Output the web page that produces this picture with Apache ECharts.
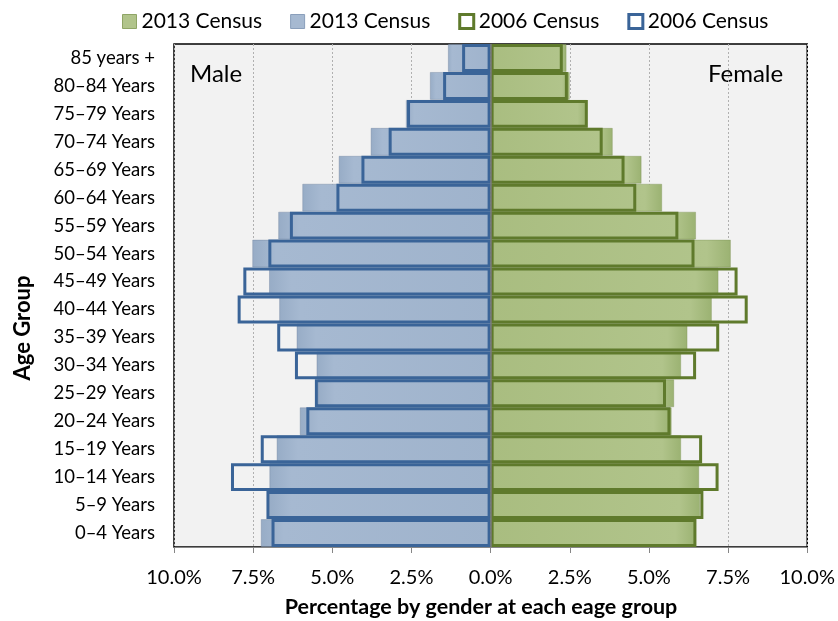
<!DOCTYPE html>
<html>
<head>
<meta charset="utf-8">
<script src="https://cdn.jsdelivr.net/npm/echarts@6/dist/echarts.min.js"></script>
<style>
html,body{margin:0;padding:0;background:#fff;}
#chart{width:838px;height:621px;}
</style>
</head>
<body>
<div id="chart"></div>
<script>
const ageGroups = ['0–4 Years','5–9 Years','10–14 Years','15–19 Years','20–24 Years','25–29 Years','30–34 Years','35–39 Years','40–44 Years','45–49 Years','50–54 Years','55–59 Years','60–64 Years','65–69 Years','70–74 Years','75–79 Years','80–84 Years','85 years +'];
// percentages, bottom (0–4) to top (85+)
const male2013   = [7.26, 7.00, 6.99, 6.76, 6.03, 5.47, 5.50, 6.13, 6.68, 7.00, 7.53, 6.71, 5.95, 4.80, 3.79, 2.68, 1.92, 1.35];
const male2006   = [6.92, 7.08, 8.20, 7.26, 5.82, 5.55, 6.18, 6.74, 7.99, 7.81, 7.02, 6.34, 4.87, 4.08, 3.22, 2.64, 1.50, 0.90];
const female2013 = [6.49, 6.62, 6.59, 6.02, 5.72, 5.80, 6.02, 6.22, 6.99, 7.20, 7.59, 6.49, 5.42, 4.77, 3.86, 3.05, 2.50, 2.40];
const female2006 = [6.50, 6.72, 7.20, 6.68, 5.68, 5.54, 6.49, 7.22, 8.12, 7.80, 6.44, 5.93, 4.60, 4.23, 3.54, 3.07, 2.44, 2.28];
const xTickLabels = ['10.0%','7.5%','5.0%','2.5%','0.0%','2.5%','5.0%','7.5%','10.0%'];
const legendLabels = {F2013:'2013 Census', M2013:'2013 Census', F2006:'2006 Census', M2006:'2006 Census'};

const chart = echarts.init(document.getElementById('chart'));
const FONT = 'Lato';
const blueFill = '#a6b9d1', greenFill = '#b1c48b';
const blueLine = '#3a6498', greenLine = '#5f7a2c';

chart.setOption({
  animation: false,
  textStyle: {fontFamily: FONT},
  legend: {
    top: 6, left: 117,
    itemWidth: 14, itemHeight: 14, itemGap: 28,
    textStyle: {fontSize: 21, color: '#000', fontFamily: FONT},
    formatter: n => legendLabels[n],
    data: [
      {name: 'F2013', icon: 'rect', itemStyle: {color: greenFill, borderColor: '#8fa566', borderWidth: 1}},
      {name: 'M2013', icon: 'rect', itemStyle: {color: blueFill, borderColor: '#8a9fbb', borderWidth: 1}},
      {name: 'F2006', icon: 'rect', itemStyle: {color: '#fff', borderColor: greenLine, borderWidth: 3}},
      {name: 'M2006', icon: 'rect', itemStyle: {color: '#fff', borderColor: blueLine, borderWidth: 3}}
    ]
  },
  grid: {left: 174, right: 30, top: 44, bottom: 74, containLabel: false,
         show: true, backgroundColor: '#f2f2f2', borderColor: '#000', borderWidth: 1.5},
  xAxis: {
    type: 'value', min: -10, max: 10, interval: 2.5,
    axisLine: {show: true, lineStyle: {color: '#868686'}},
    axisTick: {show: true, length: 6, lineStyle: {color: '#868686'}},
    axisLabel: {fontSize: 20, color: '#000', margin: 21, fontFamily: FONT,
      formatter: v => xTickLabels[Math.round((v + 10) / 2.5)]},
    splitLine: {show: true, lineStyle: {color: '#b0b0b0', type: [2, 2], width: 1}}
  },
  yAxis: {
    type: 'category', data: ageGroups,
    axisLine: {show: false, onZero: false},
    axisTick: {show: false},
    axisLabel: {fontSize: 18.5, color: '#000', margin: 19, fontFamily: FONT},
    splitLine: {show: false}
  },
  series: [
    {name: 'F2013', type: 'bar', data: female2013, barWidth: '100%', barGap: '-100%',
     itemStyle: {color: new echarts.graphic.LinearGradient(0,0,1,0,[{offset:0,color:'#a9bd80'},{offset:0.9,color:greenFill},{offset:1,color:'#9bb272'}]),
                 borderColor: 'rgba(120,140,80,0.35)', borderWidth: 1},
     markLine: {silent: true, symbol: 'none', label: {show: false},
                lineStyle: {color: '#7a7a7a', type: 'solid', width: 1.5},
                data: [{xAxis: 0}]}},
    {name: 'M2013', type: 'bar', data: male2013.map(v => -v), barWidth: '100%', barGap: '-100%',
     itemStyle: {color: new echarts.graphic.LinearGradient(1,0,0,0,[{offset:0,color:'#9fb3cc'},{offset:0.9,color:blueFill},{offset:1,color:'#97acc6'}]),
                 borderColor: 'rgba(100,120,150,0.35)', borderWidth: 1}},
    {name: 'F2006', type: 'bar', data: female2006, barWidth: '100%', barGap: '-100%',
     itemStyle: {color: 'rgba(0,0,0,0)', borderColor: greenLine, borderWidth: 3}},
    {name: 'M2006', type: 'bar', data: male2006.map(v => -v), barWidth: '100%', barGap: '-100%',
     itemStyle: {color: 'rgba(0,0,0,0)', borderColor: blueLine, borderWidth: 3}}
  ],
  graphic: [
    {type: 'text', left: 190, top: 62, style: {text: 'Male', fontSize: 24, fill: '#000', fontFamily: FONT}},
    {type: 'text', left: 708, top: 62, style: {text: 'Female', fontSize: 24, fill: '#000', fontFamily: FONT}},
    {type: 'text', x: 23, y: 328, rotation: Math.PI / 2,
     style: {text: 'Age Group', fontSize: 22, fontWeight: 'bold', fill: '#000', fontFamily: FONT,
             align: 'center', verticalAlign: 'middle'}},
    {type: 'text', x: 481, y: 607,
     style: {text: 'Percentage by gender at each eage group', fontSize: 21.5, fontWeight: 'bold', fill: '#000', fontFamily: FONT,
             align: 'center', verticalAlign: 'middle'}}
  ]
});
</script>
</body>
</html>
